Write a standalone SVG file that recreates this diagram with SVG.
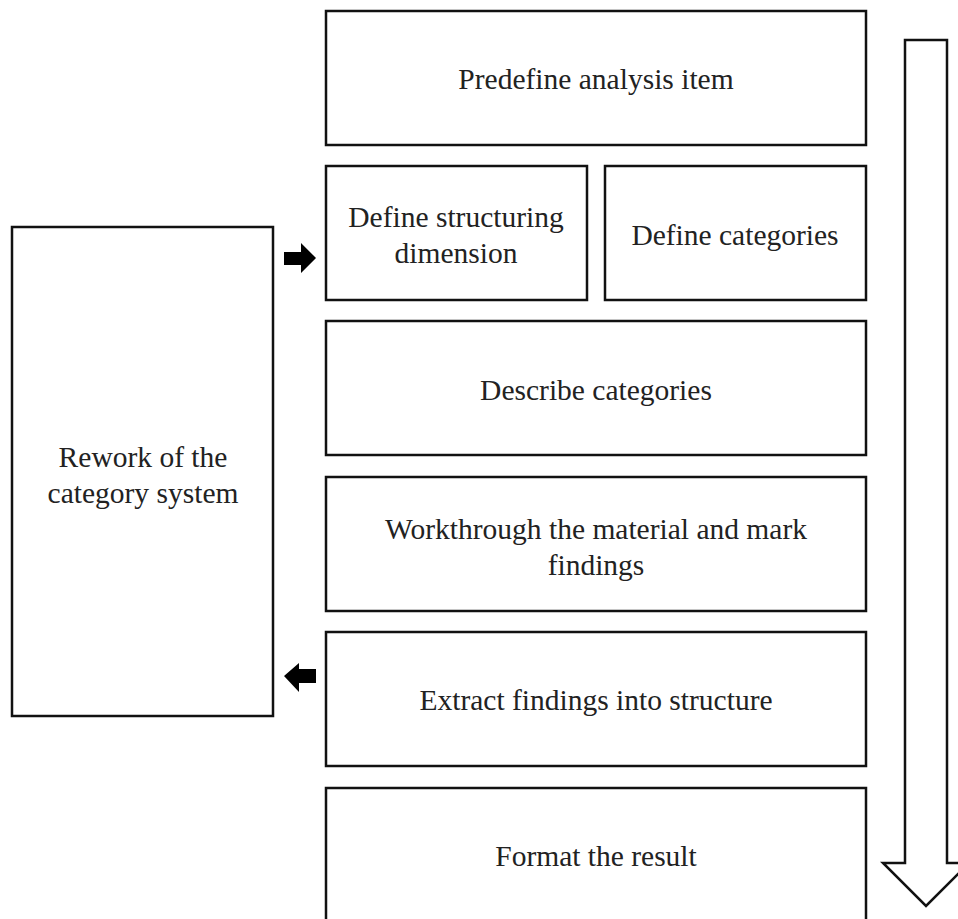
<svg xmlns="http://www.w3.org/2000/svg" width="958" height="919" viewBox="0 0 958 919">
<style>
.box{fill:#fff;stroke:#111;stroke-width:2.5}
.t{font-family:"Liberation Serif","Times New Roman",serif;font-size:29.5px;fill:#222;text-anchor:middle;dominant-baseline:central}
.arr{fill:#000;stroke:none}
.big{fill:#fff;stroke:#111;stroke-width:2.5;stroke-linejoin:miter}
</style>
<rect width="958" height="919" fill="#fff"/>
<g id="n1"><rect class="box" x="326" y="11" width="540" height="134"/><text class="t" x="596" y="79">Predefine analysis item</text></g>
<g id="n2"><rect class="box" x="326" y="166" width="261" height="134"/><text class="t" x="456" y="217">Define structuring</text><text class="t" x="456" y="253">dimension</text></g>
<g id="n3"><rect class="box" x="605" y="166" width="261" height="134"/><text class="t" x="735" y="235">Define categories</text></g>
<g id="n4"><rect class="box" x="326" y="321" width="540" height="134"/><text class="t" x="596" y="390">Describe categories</text></g>
<g id="n5"><rect class="box" x="326" y="477" width="540" height="134"/><text class="t" x="596" y="529">Workthrough the material and mark</text><text class="t" x="596" y="565">findings</text></g>
<g id="n6"><rect class="box" x="326" y="632" width="540" height="134"/><text class="t" x="596" y="700">Extract findings into structure</text></g>
<g id="n7"><rect class="box" x="326" y="788" width="540" height="140"/><text class="t" x="596" y="856">Format the result</text></g>
<g id="n8"><rect class="box" x="12" y="227" width="261" height="489"/><text class="t" x="143" y="457">Rework of the</text><text class="t" x="143" y="493">category system</text></g>
<g id="connectors">
<polygon class="arr" points="284,252 301,252 301,243 316,258 301,273 301,265 284,265"/>
<polygon class="arr" points="316,669 299,669 299,663 284,676 299,692 299,683 316,683"/>
<polygon class="big" points="905,40 947,40 947,863 969,863 926,906 883,863 905,863"/>
</g>
</svg>
